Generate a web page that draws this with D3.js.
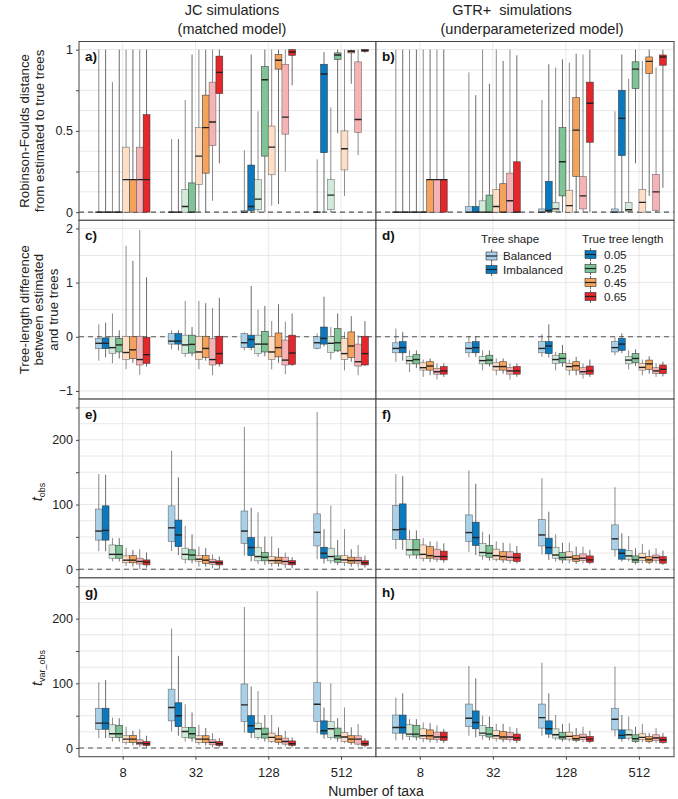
<!DOCTYPE html>
<html><head><meta charset="utf-8">
<script src="https://cdn.jsdelivr.net/npm/d3@7"></script>
<style>
body{margin:0;background:#fff;}
text{font-family:"Liberation Sans",Arial,Helvetica,sans-serif;}
</style>
</head><body>
<svg id="chart" width="678" height="799"></svg>
<script>
// ---------- categories ----------
const taxa = ["8","32","128","512"];
const lengths = ["0.05","0.25","0.45","0.65"];
const shapes = ["Balanced","Imbalanced"];
const lengthColors = ["#0b79bd","#7fc496","#f5a35c","#e3272b"];
const colTitles = [["JC simulations","(matched model)"],["GTR+  simulations","(underparameterized model)"]];
const tickLabelRows = [["0","0.5","1"],["\u22121","0","1","2"],["0","100","200"],["0","100","200"]];

// ---------- data: [low whisker, Q1, median, Q3, high whisker]
// order: taxa 8,32,128,512; within each: 0.05 bal, 0.05 imb, 0.25 bal, 0.25 imb, 0.45 bal, 0.45 imb, 0.65 bal, 0.65 imb
const rfJC = [
 [0,0,0,0,1],[0,0,0,0,1],[0,0,0,0,0.8],[0,0,0,0,1],[0,0,0.2,0.4,1],[0,0,0.2,0.2,1],[0,0,0.2,0.4,1],[0,0,0.2,0.6,1],
 [0,0,0,0,0.45],[0,0,0,0,0.45],[0,0,0.035,0.14,0.69],[0,0,0,0.18,0.97],[0,0.17,0.345,0.52,1],[0,0.24,0.52,0.72,1],[0.07,0.41,0.555,0.8,1],[0.3,0.73,0.86,0.96,1],
 [0,0,0,0.01,0.38],[0,0.01,0.035,0.29,0.97],[0,0.015,0.08,0.2,0.62],[0,0.345,0.815,0.895,1],[0.04,0.23,0.4,0.53,1],[0.05,0.88,0.935,0.97,1],[0.25,0.48,0.585,0.91,1],[0.78,0.965,0.985,1,1],
 [0,0,0,0,0.325],[0,0.366,0.85,0.91,0.985],[0,0.015,0.105,0.2,0.645],[0.485,0.94,0.967,0.98,1],[0.1,0.26,0.39,0.5,1],[0.79,0.98,0.99,0.995,1],[0.35,0.49,0.57,0.925,1],[0.98,0.99,0.995,1,1]
];
const rfGTR = [
 [0,0,0,0,1],[0,0,0,0,1],[0,0,0,0,1],[0,0,0,0,1],[0,0,0,0,1],[0,0,0.2,0.2,1],[0,0,0.2,0.2,1],[0,0,0.2,0.2,1],
 [0,0,0,0.035,0.86],[0,0,0,0.035,0.72],[0,0,0,0.07,1],[0,0,0,0.105,0.79],[0,0,0.035,0.14,1],[0,0,0,0.175,0.93],[0,0,0.07,0.24,1],[0,0,0,0.31,0.965],
 [0,0,0,0.02,0.69],[0,0.005,0.01,0.19,0.91],[0,0.005,0.02,0.06,0.89],[0,0.1,0.31,0.52,0.94],[0,0,0.04,0.135,0.92],[0,0.22,0.505,0.705,0.975],[0,0.02,0.1,0.22,0.97],[0,0.43,0.67,0.8,1],
 [0,0,0,0.02,0.62],[0,0.348,0.577,0.75,0.97],[0,0.005,0.015,0.06,0.82],[0.3,0.76,0.88,0.925,1],[0,0,0.06,0.14,0.93],[0.1,0.853,0.928,0.955,1],[0,0.01,0.125,0.233,0.89],[0.15,0.904,0.955,0.967,1]
];
const tlJC = [
 [-0.44,-0.22,-0.12,-0.03,0.23],[-0.38,-0.22,-0.12,-0.02,0.26],[-0.49,-0.31,-0.2,0,0.43],[-0.4,-0.28,-0.15,-0.03,0.12],[-0.6,-0.42,-0.29,0.01,1.68],[-0.48,-0.4,-0.24,0,1.4],[-0.7,-0.52,-0.42,0.01,1.97],[-0.55,-0.49,-0.33,-0.01,1.1],
 [-0.23,-0.135,-0.08,0.06,0.12],[-0.25,-0.135,-0.08,0.06,0.12],[-0.37,-0.31,-0.15,0.03,0.66],[-0.36,-0.3,-0.14,0.03,0.18],[-0.6,-0.42,-0.28,0.01,0.66],[-0.44,-0.38,-0.215,0.01,0.62],[-0.71,-0.52,-0.42,-0.03,0.53],[-0.55,-0.5,-0.31,0.01,0.72],
 [-0.25,-0.2,-0.11,0.06,0.08],[-0.25,-0.2,-0.05,0.03,0.94],[-0.37,-0.31,-0.135,0.03,0.5],[-0.36,-0.28,-0.135,0.1,0.57],[-0.6,-0.42,-0.28,0.01,0.29],[-0.48,-0.37,-0.2,0.07,0.6],[-0.69,-0.52,-0.43,-0.06,0.28],[-0.54,-0.51,-0.3,0.03,0.43],
 [-0.23,-0.215,-0.11,0,0.06],[-0.18,-0.135,-0.03,0.18,0.74],[-0.42,-0.29,-0.12,0,0.18],[-0.28,-0.26,-0.11,0.15,0.43],[-0.62,-0.42,-0.31,-0.03,0.09],[-0.46,-0.38,-0.17,0.09,0.38],[-0.71,-0.54,-0.46,-0.135,0.03],[-0.54,-0.52,-0.31,0.01,0.29]
];
const tlGTR = [
 [-0.46,-0.295,-0.215,-0.11,0.15],[-0.44,-0.295,-0.2,-0.09,0.09],[-0.65,-0.5,-0.44,-0.36,-0.25],[-0.58,-0.5,-0.42,-0.33,-0.25],[-0.74,-0.615,-0.57,-0.48,-0.42],[-0.71,-0.615,-0.54,-0.46,-0.4],[-0.79,-0.69,-0.645,-0.585,-0.49],[-0.74,-0.69,-0.63,-0.55,-0.49],
 [-0.38,-0.295,-0.215,-0.11,0.01],[-0.37,-0.295,-0.2,-0.09,0.01],[-0.62,-0.5,-0.44,-0.36,-0.25],[-0.55,-0.5,-0.43,-0.34,-0.25],[-0.71,-0.615,-0.55,-0.48,-0.4],[-0.68,-0.615,-0.55,-0.46,-0.4],[-0.79,-0.69,-0.63,-0.565,-0.49],[-0.74,-0.69,-0.63,-0.55,-0.49],
 [-0.37,-0.295,-0.215,-0.09,0.05],[-0.38,-0.31,-0.17,-0.09,0.23],[-0.62,-0.49,-0.42,-0.34,-0.28],[-0.55,-0.48,-0.4,-0.31,-0.15],[-0.71,-0.615,-0.55,-0.49,-0.42],[-0.71,-0.615,-0.535,-0.46,-0.37],[-0.77,-0.69,-0.645,-0.57,-0.49],[-0.74,-0.69,-0.63,-0.54,-0.42],
 [-0.34,-0.28,-0.2,-0.09,-0.01],[-0.3,-0.25,-0.135,-0.03,0.06],[-0.6,-0.5,-0.43,-0.36,-0.25],[-0.54,-0.48,-0.4,-0.31,-0.23],[-0.71,-0.615,-0.565,-0.49,-0.42],[-0.68,-0.6,-0.5,-0.43,-0.36],[-0.74,-0.68,-0.63,-0.57,-0.49],[-0.73,-0.68,-0.6,-0.52,-0.46]
];
const tobsJC = [
 [28,45,59,93,147],[28,45,60,98,146],[12,17,23,37.6,48],[12,17,23,37,48],[5,10,14,20.6,33],[4,10,14,21,30],[0,8,12,17,31],[2.5,6.7,11,14.4,26],
 [28,43,64,98,183],[22,35,53,76,142],[9,15.5,23,32.5,67],[9,14.4,22,30,54],[4,12,15.5,21,35],[4,9,14,21,33],[1.5,7.7,11,15.5,23],[0,6.7,10,13,19.6],
 [21,40,59,90,220],[12,21,33.5,49,95],[7.7,13,19.6,34,88],[6.7,13,18.6,25.8,50.5],[4,9.3,13.4,19.6,50.5],[4,9.3,13.4,18.6,32.5],[1.5,7.7,12,18.6,25.8],[1.5,6.7,10,13.4,18.6],
 [15.5,36,57,85.6,243],[9,17,24.7,34,62],[9,13,19.6,32.5,98.5],[6.7,10.8,15.5,20.6,45],[5,10.3,14.4,21,62],[4,9.3,13.4,18.6,31],[3,9.3,13.4,18.6,37.6],[2.5,6.7,10,13.4,21]
];
const tobsGTR = [
 [31,46,61,98.5,147],[30,46,62,101,144],[17,22,30,46,61],[16,22,30,46,60],[12,17,23,37.6,48],[11,17,21,35,43],[11,15.5,19.6,31,43],[10,14.4,19.6,28,40],
 [27,43,56.7,84,152.6],[22,36.6,49,72.7,132],[14.4,20.6,25.8,40,58],[13.4,18.6,24.7,36.6,54],[12,15.5,21,31,43],[10,14.4,19.6,27,41],[9,13.4,18.6,27,40],[9,12,18,24.7,36],
 [23,36,53,77,140.7],[14.4,23.7,33.5,48,89],[12,17,22,34,54],[9,14.4,18,25.8,41],[9,14.4,18.6,27,41],[8,12,16,21,35],[9,13.4,17,23.7,35],[7.7,10.3,14.4,20.6,30],
 [19.6,30,47,68.6,126.8],[12,15.5,24.7,31,55.7],[12,15.5,20.6,29,51.5],[7.7,10.8,14.4,20.6,32.5],[9,13.4,18,24.7,39],[7.7,10.8,14.4,19.6,30],[9,13.4,18,22,32.5],[6.7,9.3,14.4,19.6,29]
];
const tvarJC = [
 [15.4,29,38.5,61.5,101.5],[15.4,29,38.5,61.5,105],[10,16.4,22,36,47],[10,16.4,22,35,46],[5,8.7,13.8,19,33],[4,8.7,13.8,19.5,26.7],[1,5,7.7,12.8,29],[1,4,6.7,10,19],
 [25.6,42,62.6,91,184.6],[19,33,50,70,142.6],[10,16.4,25.6,32,67.7],[10,15.4,22,32,55],[5,8.7,13.8,19,36],[4,8.7,13.8,19,31],[1,5,8.7,12.8,23],[1,4,6.7,10,15.4],
 [24,41,66.7,99,218],[15.4,24,34.4,50,95],[12.8,16.4,29.7,38.5,88],[10,15.4,21.5,30.8,51],[7.7,10,16.4,23,51],[5,8.7,13.8,19,32],[2.5,6,10,15.4,26.7],[1,4,6.7,11,16.4],
 [23,41,67.7,101,242.6],[14.4,21.5,26.7,42,62.6],[12.8,16.4,29.7,41,100],[10,15.4,19,30.8,46],[7.7,10,17,24,62.6],[5,8.7,13.8,19,32],[4,6,13.8,19,37],[1,4,6.7,11,15.4]
];
const tvarGTR = [
 [11.8,23,31.8,51,78],[12.8,23,31.8,51,84.6],[11.8,18,21.5,36,44.6],[11.8,17,21.5,35,44.6],[9,14.4,19,29.7,39.5],[8.7,13.8,19,28,38.5],[7.7,12.8,17,24.6,35],[7.7,11.8,17,24.6,29.7],
 [19,33,46,68,126.7],[16.4,29.7,39.5,57.4,107.7],[12.8,19,23,35,50],[11.8,17,21.5,31.8,48.7],[10,14.4,19,27,37.4],[9,13.8,17,25.6,37.4],[8.7,12.8,17,24,33],[7.7,11.8,15.4,21.5,30.8],
 [19,30.8,47,68,132],[15.4,21.5,29.7,42,84.6],[11.8,15.4,20.5,29.7,51],[10,13.8,17,24,37.4],[10,13.8,18,24.6,38.5],[8.7,11.8,14.4,19.5,30.8],[8.7,12.8,16.4,21.5,33],[7.7,10,13.8,18,26.7],
 [18,28,44.6,61.5,125.6],[10,14.4,19.5,28,51],[11.8,15.4,20.5,28,48.7],[7.7,10,14.4,20.5,33],[9,12.8,16.4,22,37.4],[7.7,10,13.8,18,23],[7.7,11.8,15.4,20.5,30.8],[6.7,8.7,12.8,17,23]
];

// ---------- layout ----------
const svg = d3.select("#chart");
const colX = [[79,376],[376,674]];
const rowY = [[41.5,220.3],[220.3,399.1],[399.1,577.9],[577.9,756.7]];
const rowDomains = [[-0.05,1.05],[-1.15,2.15],[-13.4,263],[-13.4,263]];
const gridVals = [d3.range(0,1.0001,0.125), d3.range(-1,2.0001,0.5), d3.range(0,251,25), d3.range(0,251,25)];
const tickVals = [[0,0.25,0.5,0.75,1],[-1,0,1,2],[0,50,100,150,200,250],[0,50,100,150,200,250]];
const labelVals = [[0,0.5,1],[-1,0,1,2],[0,100,200],[0,100,200]];
const panels = [
 {data: rfJC, row:0, col:0, tag:"a)"},
 {data: rfGTR, row:0, col:1, tag:"b)"},
 {data: tlJC, row:1, col:0, tag:"c)"},
 {data: tlGTR, row:1, col:1, tag:"d)"},
 {data: tobsJC, row:2, col:0, tag:"e)"},
 {data: tobsGTR, row:2, col:1, tag:"f)"},
 {data: tvarJC, row:3, col:0, tag:"g)"},
 {data: tvarGTR, row:3, col:1, tag:"h)"}
];
const ALPHA = 0.35;
function fillFor(li, si){
  const c = d3.rgb(lengthColors[li]);
  if (si === 1) return c.formatHex();
  const w = 255;
  return d3.rgb(ALPHA*c.r+(1-ALPHA)*w, ALPHA*c.g+(1-ALPHA)*w, ALPHA*c.b+(1-ALPHA)*w).formatHex();
}
const inner = d3.scaleBand().domain(d3.range(8)).range([-0.375,0.375]).padding(0);

panels.forEach((p, pi) => {
  const x = d3.scaleLinear().domain([-0.6,3.48]).range(colX[p.col]);
  const y = d3.scaleLinear().domain(rowDomains[p.row]).range([rowY[p.row][1], rowY[p.row][0]]);
  const g = svg.append("g");
  const [x0,x1] = colX[p.col], [y0,y1] = rowY[p.row];
  const clipId = "clip"+pi;
  svg.append("clipPath").attr("id",clipId).append("rect").attr("x",x0).attr("y",y0).attr("width",x1-x0).attr("height",y1-y0);
  const body = g.append("g").attr("clip-path",`url(#${clipId})`);
  body.append("rect").attr("x",x0).attr("y",y0).attr("width",x1-x0).attr("height",y1-y0).attr("fill","#fff");
  // grid
  body.selectAll(".hg").data(gridVals[p.row]).join("line")
    .attr("x1",x0).attr("x2",x1).attr("y1",d=>y(d)).attr("y2",d=>y(d))
    .attr("stroke","#e2e2e2").attr("stroke-width",0.8);
  body.selectAll(".vg").data(d3.range(taxa.length)).join("line")
    .attr("x1",d=>x(d)).attr("x2",d=>x(d)).attr("y1",y0).attr("y2",y1)
    .attr("stroke","#e2e2e2").attr("stroke-width",0.8);
  // zero line
  body.append("line").attr("x1",x0).attr("x2",x1).attr("y1",y(0)).attr("y2",y(0))
    .attr("stroke","#555").attr("stroke-width",1.1).attr("stroke-dasharray","5,4");
  // boxes
  const bw = x(inner.bandwidth()) - x(0);
  const items = p.data.map((v,i)=>{
    const gi = Math.floor(i/8), k = i%8;
    return {v, gi, k, li: Math.floor(k/2), si: k%2, cx: x(gi + inner(k) + inner.bandwidth()/2)};
  });
  const bg = body.selectAll(".box").data(items).join("g");
  bg.append("line").attr("x1",d=>d.cx).attr("x2",d=>d.cx)
    .attr("y1",d=>y(d.v[0])).attr("y2",d=>y(d.v[4]))
    .attr("stroke","#3d3d3d").attr("stroke-opacity",d=>d.si?0.95:0.75).attr("stroke-width",0.8);
  bg.append("rect").attr("x",d=>d.cx-bw/2).attr("width",bw)
    .attr("y",d=>y(d.v[3])).attr("height",d=>Math.max(0.01,y(d.v[1])-y(d.v[3])))
    .attr("fill",d=>fillFor(d.li,d.si))
    .attr("stroke","#333").attr("stroke-opacity",d=>d.si?0.9:0.65).attr("stroke-width",0.6);
  bg.append("line").attr("x1",d=>d.cx-bw/2).attr("x2",d=>d.cx+bw/2)
    .attr("y1",d=>y(d.v[2])).attr("y2",d=>y(d.v[2]))
    .attr("stroke","#222").attr("stroke-width",1.4);
  // tag
  g.append("text").attr("x",x0+6).attr("y",y0+19.5).attr("font-size",13.5).attr("font-weight","bold").attr("fill","#111").text(p.tag);
  // border
  g.append("rect").attr("x",x0).attr("y",y0).attr("width",x1-x0).attr("height",y1-y0)
    .attr("fill","none").attr("stroke","#444").attr("stroke-width",1);
  // axes
  if (p.col === 0) {
    const ax = g.append("g").attr("transform",`translate(${x0},0)`)
      .call(d3.axisLeft(y).tickValues(tickVals[p.row]).tickSize(3).tickPadding(3)
        .tickFormat(d=>{const j = labelVals[p.row].indexOf(d); return j>=0 ? tickLabelRows[p.row][j] : "";}));
    ax.select(".domain").remove();
    ax.selectAll(".tick line").attr("stroke","#444");
    ax.selectAll(".tick text").attr("font-size",12.5).attr("fill","#222").attr("font-family","Liberation Sans, Arial, sans-serif");
  }
  if (p.row === 3) {
    const ax = g.append("g").attr("transform",`translate(0,${y1})`)
      .call(d3.axisBottom(x).tickValues(d3.range(taxa.length)).tickSize(3).tickPadding(8).tickFormat(i=>taxa[i]));
    ax.select(".domain").remove();
    ax.selectAll(".tick line").attr("stroke","#444");
    ax.selectAll(".tick text").attr("font-size",13).attr("fill","#222").attr("font-family","Liberation Sans, Arial, sans-serif");
  }
  // legend in panel d
  if (p.tag === "d)") {
    const lg = g.append("g");
    function keyGlyph(kx, ky, w, fill){
      lg.append("line").attr("x1",kx+w/2).attr("x2",kx+w/2).attr("y1",ky-6.5).attr("y2",ky+6.5).attr("stroke","#444").attr("stroke-width",0.8);
      lg.append("rect").attr("x",kx).attr("y",ky-4).attr("width",w).attr("height",8).attr("fill",fill).attr("stroke","#333").attr("stroke-width",0.6);
      lg.append("line").attr("x1",kx).attr("x2",kx+w).attr("y1",ky).attr("y2",ky).attr("stroke","#222").attr("stroke-width",1.2);
    }
    const LF = 11.6;
    lg.append("text").attr("x",481).attr("y",243).attr("font-size",LF).attr("fill","#222").text("Tree shape");
    shapes.forEach((s,i)=>{
      const ky = 256 + i*13.5;
      keyGlyph(486, ky, 11, fillFor(0,i));
      lg.append("text").attr("x",503).attr("y",ky+4.2).attr("font-size",LF).attr("fill","#222").text(s);
    });
    lg.append("text").attr("x",582).attr("y",243).attr("font-size",LF).attr("fill","#222").text("True tree length");
    lengths.forEach((s,i)=>{
      const ky = 254.5 + i*14;
      keyGlyph(585, ky, 11, fillFor(i,1));
      lg.append("text").attr("x",604).attr("y",ky+4.2).attr("font-size",LF).attr("fill","#222").text(s);
    });
  }
});

// column titles
[[232,232],[512,532]].forEach((cx,ci)=>{
  colTitles[ci].forEach((t,li)=>{
    svg.append("text").attr("x",cx[li]).attr("y",li===0?15:33.5).attr("text-anchor","middle")
      .attr("font-size",14.5).attr("fill","#222").style("white-space","pre").text(t);
  });
});

// y-axis titles
function rotLines(lines, xs, cy){
  lines.forEach((t,i)=>{
    svg.append("text").attr("transform",`translate(${xs[i]},${cy}) rotate(-90)`)
      .attr("text-anchor","middle").attr("font-size",13.3).attr("fill","#222").text(t);
  });
}
rotLines(["Robinson-Foulds distance","from estimated to true trees"],[29,43.5],(rowY[0][0]+rowY[0][1])/2);
rotLines(["Tree-length difference","between estimated","and true trees"],[28.5,43,57.5],(rowY[1][0]+rowY[1][1])/2);
function tLabel(sub, cy){
  const t = svg.append("text").attr("transform",`translate(42,${cy}) rotate(-90)`).attr("text-anchor","middle").attr("fill","#222");
  t.append("tspan").attr("font-size",15).attr("font-style","italic").text("t");
  t.append("tspan").attr("font-size",9).attr("dy",3).text(sub);
}
tLabel("obs", 492);
tLabel("var_obs", 668);

// x-axis title
svg.append("text").attr("x",376).attr("y",796).attr("text-anchor","middle").attr("font-size",14).attr("fill","#222").text("Number of taxa");
</script>
</body></html>
